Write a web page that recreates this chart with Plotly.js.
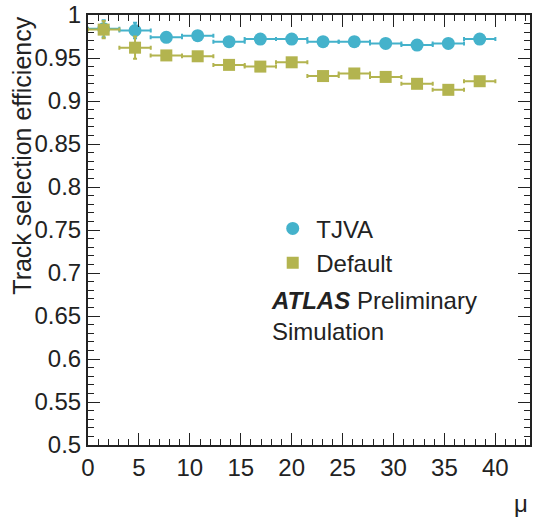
<!DOCTYPE html>
<html>
<head>
<meta charset="utf-8">
<script src="https://cdn.plot.ly/plotly-3.0.1.min.js"></script>
<style>html,body{margin:0;padding:0;background:#fff;}#chart{width:538px;height:519px;}</style>
</head>
<body>
<div id="chart"></div>
<script>
// bin centres in mu (13 equal bins from 0 to 40)
var muCenters = [1.54, 4.62, 7.69, 10.77, 13.85, 16.92, 20.0, 23.08, 26.15, 29.23, 32.31, 35.38, 38.46];
var muHalfWidth = [1.54, 1.54, 1.54, 1.54, 1.54, 1.54, 1.54, 1.54, 1.54, 1.54, 1.54, 1.54, 1.54];
var tjvaEff = [0.984, 0.982, 0.974, 0.976, 0.969, 0.972, 0.972, 0.969, 0.969, 0.967, 0.965, 0.967, 0.972];
var tjvaErr = [0.010, 0.009, 0.003, 0.003, 0.002, 0.002, 0.002, 0.002, 0.002, 0.002, 0.002, 0.002, 0.002];
var defaultEff = [0.983, 0.962, 0.953, 0.952, 0.942, 0.940, 0.945, 0.929, 0.932, 0.928, 0.920, 0.913, 0.923];
var defaultErr = [0.010, 0.013, 0.003, 0.003, 0.002, 0.002, 0.002, 0.002, 0.002, 0.002, 0.002, 0.003, 0.004];

var cTJVA = '#44b2cb';
var cDef = '#b3b44f';
var FONT = 'Liberation Sans, Arial, sans-serif';

var traces = [
  {
    x: muCenters, y: tjvaEff, name: 'TJVA', type: 'scatter', mode: 'markers',
    marker: {symbol: 'circle', size: 13, color: cTJVA},
    error_x: {type: 'data', array: muHalfWidth, color: cTJVA, thickness: 2, width: 2},
    error_y: {type: 'data', array: tjvaErr, color: cTJVA, thickness: 2, width: 2}
  },
  {
    x: muCenters, y: defaultEff, name: 'Default', type: 'scatter', mode: 'markers',
    marker: {symbol: 'square', size: 12, color: cDef},
    error_x: {type: 'data', array: muHalfWidth, color: cDef, thickness: 2, width: 2},
    error_y: {type: 'data', array: defaultErr, color: cDef, thickness: 2, width: 2}
  }
];

var layout = {
  width: 538, height: 519,
  margin: {l: 88, r: 8, t: 15, b: 74},
  paper_bgcolor: '#fff', plot_bgcolor: '#fff',
  font: {family: FONT, size: 24, color: '#222'},
  showlegend: true,
  legend: {
    x: 0.41, y: 0.555, xanchor: 'left', yanchor: 'top',
    traceorder: 'normal',
    font: {family: FONT, size: 24, color: '#222'},
    bgcolor: 'rgba(0,0,0,0)', itemwidth: 37, tracegroupgap: 0
  },
  xaxis: {
    range: [0, 43.4], showgrid: false, zeroline: false,
    showline: true, linecolor: '#222', linewidth: 2, mirror: 'allticks',
    ticks: 'inside', ticklen: 12, tickwidth: 1, tickcolor: '#222',
    tick0: 0, dtick: 5,
    minor: {dtick: 1, ticklen: 6, tickcolor: '#222', ticks: 'inside'},
    tickfont: {family: FONT, size: 24, color: '#222'}
  },
  yaxis: {
    range: [0.5, 1.0], showgrid: false, zeroline: false,
    showline: true, linecolor: '#222', linewidth: 2, mirror: 'allticks',
    ticks: 'inside', ticklen: 12, tickwidth: 1, tickcolor: '#222',
    minor: {dtick: 0.01, ticklen: 6, tickcolor: '#222', ticks: 'inside'},
    tickvals: [0.5,0.55,0.6,0.65,0.7,0.75,0.8,0.85,0.9,0.95,1.0],
    ticktext: ['0.5','0.55','0.6','0.65','0.7','0.75','0.8','0.85','0.9','0.95','1'],
    tickfont: {family: FONT, size: 24, color: '#222'}
  },
  annotations: [
    {text: 'Track selection efficiency', xref: 'paper', yref: 'paper', x: -0.15, y: 1.0,
     xanchor: 'center', yanchor: 'top', textangle: -90, showarrow: false,
     font: {family: FONT, size: 25, color: '#222'}},
    {text: 'μ', xref: 'paper', yref: 'paper', x: 1.0, y: -0.1,
     xanchor: 'right', yanchor: 'top', showarrow: false,
     font: {family: FONT, size: 24, color: '#222'}},
    {text: '<b><i>ATLAS</i></b> Preliminary<br>Simulation', xref: 'paper', yref: 'paper', x: 0.41, y: 0.299,
     xanchor: 'left', yanchor: 'middle', align: 'left', showarrow: false,
     font: {family: FONT, size: 24, color: '#222'}}
  ]
};

Plotly.newPlot('chart', traces, layout, {displayModeBar: false, staticPlot: true});
</script>
</body>
</html>
